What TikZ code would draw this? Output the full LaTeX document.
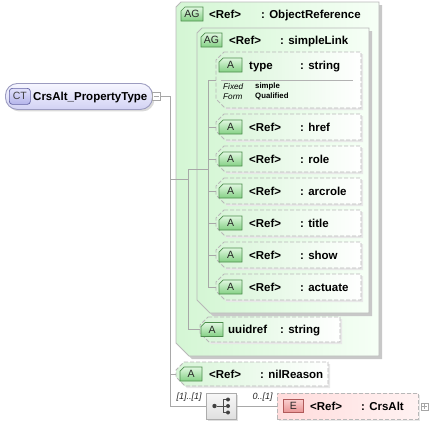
\documentclass[tikz,border=0pt]{standalone}
\usepackage{fontspec}
\setmainfont{Liberation Sans}
\usetikzlibrary{shadows}
\definecolor{conncol}{HTML}{A8A8A8}
\definecolor{grpborder}{HTML}{B8B8B8}
\definecolor{grpshadow}{HTML}{C8C8C8}
\definecolor{grpleft}{HTML}{D4F6D4}
\definecolor{grpright}{HTML}{F6FFF6}
\definecolor{attrleft}{HTML}{D8F5D8}
\definecolor{iconTop}{HTML}{E0F8E0}
\definecolor{iconBot}{HTML}{84D084}
\definecolor{iconBorder}{HTML}{4E8E4E}
\definecolor{ctTop}{HTML}{F6F6FF}
\definecolor{ctBot}{HTML}{D2D2F4}
\definecolor{ctBorder}{HTML}{9C9CC0}
\definecolor{ctIconTop}{HTML}{E2E2FC}
\definecolor{ctIconBot}{HTML}{B4B4EA}
\definecolor{ctIconBorder}{HTML}{6464A4}
\definecolor{eleft}{HTML}{FFDCDC}
\definecolor{eright}{HTML}{FFF2F2}
\definecolor{eIconTop}{HTML}{FAD0D0}
\definecolor{eIconBot}{HTML}{E89494}
\definecolor{eIconBorder}{HTML}{B05A5A}
\newcommand{\chbox}[8]{%
  \node[anchor=north west, minimum width=#5pt, minimum height=#6pt, inner sep=0pt, outer sep=0pt] (#2) at (#3,#4) {};
  \path[#1] ([xshift=#7pt]#2.north west) -- (#2.north east) -- (#2.south east)
     -- ([xshift=#8pt]#2.south west) -- ([yshift=#8pt]#2.south west)
     -- ([yshift=-#7pt]#2.north west) -- cycle;
}
\begin{document}
\begin{tikzpicture}[x=1pt,y=-1pt,
  conn/.style={draw=conncol, line width=0.8pt},
  grp/.style={draw=grpborder, line width=0.9pt, left color=grpleft, right color=grpright,
     general shadow={shadow xshift=3pt, shadow yshift=-3pt, fill=grpshadow}},
  attr/.style={draw=grpborder, line width=0.9pt, dash pattern=on 4pt off 2pt,
     left color=attrleft, right color=white,
     general shadow={shadow xshift=2pt, shadow yshift=-2pt, fill=gray!18}},
  icon/.style={draw=iconBorder, line width=0.7pt, top color=iconTop, bottom color=iconBot},
  icontxt/.style={font=\fontsize{10.5}{12}\selectfont, inner sep=0pt, text=black!85},
  lbl/.style={font=\fontsize{11.5}{13}\selectfont\bfseries, anchor=base west, inner sep=0pt},
  fixlbl/.style={font=\fontsize{8.2}{9}\selectfont\itshape, anchor=base west, inner sep=0pt},
  fixval/.style={font=\fontsize{7.8}{9}\selectfont\bfseries, anchor=base west, inner sep=0pt},
  mult/.style={font=\fontsize{9}{10}\selectfont\itshape, anchor=base west, inner sep=0pt, text=black!85},
  pmbox/.style={draw=gray!70, fill=white, line width=0.6pt, minimum size=8pt, inner sep=0pt},
  dot/.style={circle, fill=black!75, inner sep=0pt, minimum size=4.4pt}
]
\useasboundingbox (0,0) rectangle (430,423);

% ---------- complex type ----------
\node[anchor=north west, minimum width=147pt, minimum height=26pt, inner sep=0pt,
  rounded corners=12pt, draw=ctBorder, line width=0.9pt, top color=ctTop, bottom color=ctBot,
  general shadow={shadow xshift=2pt, shadow yshift=-2pt, fill=gray!30}] (ct) at (5,83) {};
\node[anchor=north west, minimum width=21pt, minimum height=16pt, inner sep=0pt, rounded corners=3pt,
  draw=ctIconBorder, line width=0.7pt, top color=ctIconTop, bottom color=ctIconBot] (cticon) at (9,88) {};
\node[icontxt, text=black!75] (cticontxt) at (cticon.center) {CT};
\node[lbl] (ctlbl) at (33,100.5) {CrsAlt\_PropertyType};
\node[pmbox] (ctminus) at (156,96) {};
\draw[gray!70, line width=0.7pt] ([xshift=-2.5pt]ctminus.center) -- ([xshift=2.5pt]ctminus.center);

% ---------- group ObjectReference ----------
\chbox{grp}{objref}{176}{2}{203}{354}{5}{13}
\chbox{icon}{agone}{181}{7}{22}{14}{4}{0}
\node[icontxt] (agonetxt) at (agone.center) {AG};
\node[lbl] (orref) at (209,18) {<Ref>};
\node[lbl] (orname) at (261,18) {: ObjectReference};

% ---------- group simpleLink ----------
\chbox{grp}{slink}{197}{28}{172}{285}{5}{13}
\chbox{icon}{agtwo}{201}{33}{21}{14}{4}{0}
\node[icontxt] (agtwotxt) at (agtwo.center) {AG};
\node[lbl] (slref) at (229,44) {<Ref>};
\node[lbl] (slname) at (280,44) {: simpleLink};

% ---------- type attribute ----------
\chbox{attr}{typeb}{216}{52}{145}{56}{8}{9}
\chbox{icon}{atype}{219}{58}{23}{14}{4}{0}
\node[icontxt] (atypetxt) at (atype.center) {A};
\node[lbl] (typelbl) at (249,69) {type};
\node[lbl] (typename) at (300,69) {: string};
\draw[draw=gray!60, line width=0.6pt] ([xshift=5pt]typeb.west) -- ([xshift=-8pt]typeb.east);
\node[fixlbl] (fixed) at (223,89) {Fixed};
\node[fixlbl] (form) at (223,99) {Form};
\node[fixval] (fixedval) at (255,88) {simple};
\node[fixval] (formval) at (255,98) {Qualified};

% ---------- simpleLink attributes ----------
\foreach \nm/\yy/\txt in {href/114/href, role/146/role, arcrole/178/arcrole, title/210/title, show/242/show, actuate/274/actuate}{
  \chbox{attr}{\nm}{216}{\yy}{145}{26}{8}{9}
  \chbox{icon}{\nm icon}{219}{\yy+6}{23}{14}{4}{0}
  \node[icontxt] (\nm icontxt) at (\nm icon.center) {A};
  \node[lbl] (\nm ref) at (249,\yy+17) {<Ref>};
  \node[lbl] (\nm name) at (300,\yy+17) {: \txt};
}

% ---------- uuidref ----------
\chbox{attr}{uuid}{200}{317}{140}{25}{8}{9}
\chbox{icon}{uuidicon}{201}{322.5}{22}{14}{4}{0}
\node[icontxt] (uuidicontxt) at (uuidicon.center) {A};
\node[lbl] (uuidlbl) at (228,333.5) {uuidref};
\node[lbl] (uuidname) at (280,333.5) {: string};

% ---------- nilReason ----------
\chbox{attr}{nil}{176}{362}{152}{24}{8}{9}
\chbox{icon}{nilicon}{180}{367}{22}{14}{4}{0}
\node[icontxt] (nilicontxt) at (nilicon.center) {A};
\node[lbl] (nilref) at (209,378) {<Ref>};
\node[lbl] (nilname) at (260,378) {: nilReason};

% ---------- sequence ----------
\node[anchor=north west, minimum width=30pt, minimum height=26pt, inner sep=0pt,
  draw=gray!65, line width=0.8pt, top color=gray!6, bottom color=gray!25,
  general shadow={shadow xshift=2pt, shadow yshift=-2pt, fill=gray!25}] (seq) at (206,393) {};
\node[dot] (sqa) at (214.5,406) {};
\node[dot, minimum size=4pt] (sqb) at (228,399.5) {};
\node[dot, minimum size=4pt] (sqc) at (228,406) {};
\node[dot, minimum size=4pt] (sqd) at (228,412.5) {};
\coordinate (sqbar) at (223,406);
\draw[black!70, line width=0.9pt] (sqa) -- (sqbar);
\draw[black!70, line width=0.9pt] (sqb) -| (sqbar |- sqd) -- (sqd);
\draw[black!70, line width=0.9pt] (sqbar) -- (sqc);

% ---------- element CrsAlt ----------
\node[anchor=north west, minimum width=141pt, minimum height=26pt, inner sep=0pt,
  draw=grpborder, line width=0.9pt, dash pattern=on 4pt off 2pt, left color=eleft, right color=eright,
  general shadow={shadow xshift=2pt, shadow yshift=-2pt, fill=gray!18}] (crs) at (277,393) {};
\node[anchor=north west, minimum width=20pt, minimum height=13pt, inner sep=0pt,
  draw=eIconBorder, line width=0.7pt, top color=eIconTop, bottom color=eIconBot] (eicon) at (283,399) {};
\node[icontxt] (eicontxt) at (eicon.center) {E};
\node[lbl] (crsref) at (310,410) {<Ref>};
\node[lbl] (crsname) at (361,410) {: CrsAlt};
\node[pmbox, minimum size=7pt] (crsplus) at (424.5,406.5) {};
\draw[gray!70, line width=0.6pt] ([xshift=-2.2pt]crsplus.center) -- ([xshift=2.2pt]crsplus.center)
  ([yshift=-2.2pt]crsplus.center) -- ([yshift=2.2pt]crsplus.center);

% ---------- connectors ----------
\coordinate (jct) at (170,96);
\coordinate (jor) at (188,179);
\coordinate (jortop) at (188,169);
\coordinate (jsl) at (208,169);
\draw[conn] (ctminus.east) -- (jct) |- (seq.west);
\draw[conn] (jct |- nil.west) -- (nil.west);
\draw[conn] (jct |- jor) -- (jor);
\draw[conn] (uuid.west) -| (jortop) -- (jsl);
\draw[conn] (jsl |- typeb.west) -- (jsl |- actuate.west);
\foreach \nm in {typeb, href, role, arcrole, title, show, actuate}{
  \draw[conn] (jsl |- \nm.west) -- (\nm.west);
}
\draw[conn] (seq.east) -- (crs.west);
\node[mult] (multseq) at (176.5,399) {[1]..[1]};
\node[mult] (multcrs) at (252.5,399) {0..[1]};
\end{tikzpicture}
\end{document}
